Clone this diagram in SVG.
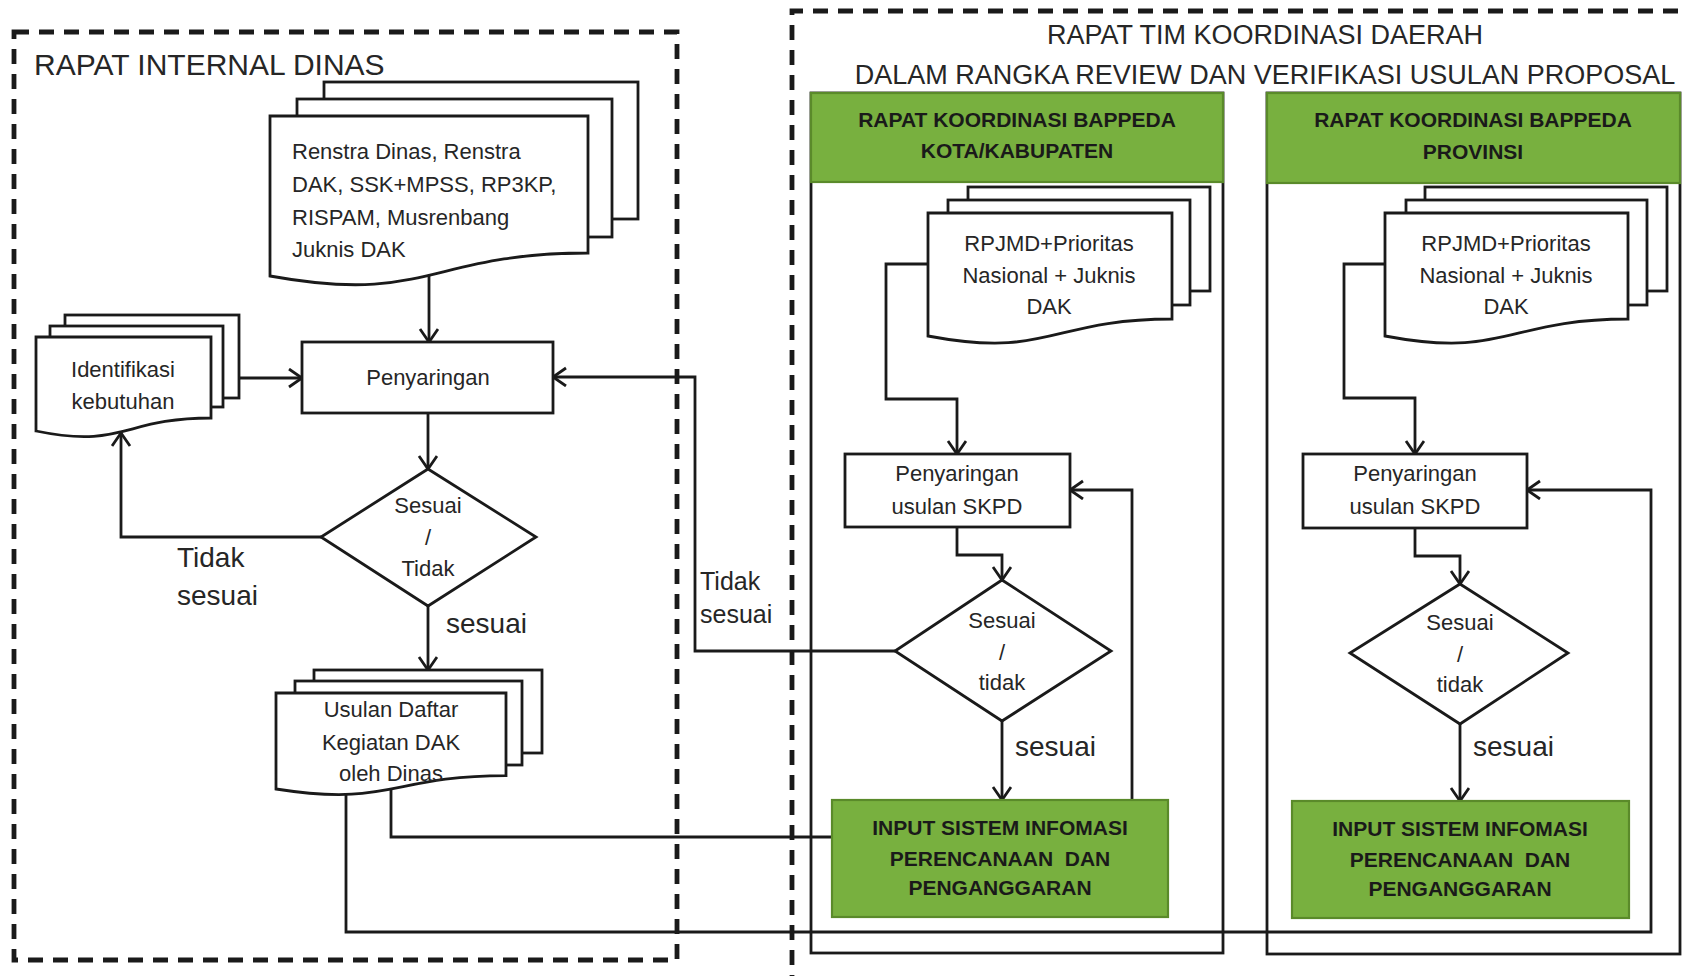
<svg xmlns="http://www.w3.org/2000/svg" width="1685" height="976" viewBox="0 0 1685 976">
<style>
  text { font-family: 'Liberation Sans', Arial, sans-serif; fill: #262626; }
  .title { font-size: 27px; }
  .title-l { font-size: 30px; }
  .body { font-size: 22px; }
  .mid { text-anchor: middle; }
  .lbl { font-size: 28px; }
  .lbl-s { font-size: 25px; }
  .bold { font-size: 21px; font-weight: bold; fill: #1a1a1a; text-anchor: middle; }
  .dash { fill: none; stroke: #1a1a1a; stroke-width: 4.8; stroke-dasharray: 15 10; }
  .box { fill: #ffffff; stroke: #1a1a1a; stroke-width: 2.8; }
  .green { fill: #78b03f; stroke: #5a8a2a; stroke-width: 2.2; }
  .cont { fill: #ffffff; stroke: #1a1a1a; stroke-width: 2.8; }
  .conn path { fill: none; stroke: #1a1a1a; stroke-width: 2.8; }
</style>
<defs>
  <marker id="arr" markerUnits="userSpaceOnUse" markerWidth="18" markerHeight="22" refX="14" refY="10" orient="auto">
    <path d="M1,1 L14,10 L1,19" fill="none" stroke="#1a1a1a" stroke-width="2.8"/>
  </marker>
</defs>
<rect width="1685" height="976" fill="#ffffff"/>

<!-- containers -->
<g id="rapat-internal-dinas">
  <rect class="dash" x="14" y="32" width="663" height="928"/>
  <text class="title-l" x="34" y="75">RAPAT INTERNAL DINAS</text>
</g>
<g id="rapat-tim-koordinasi">
  <path class="dash" d="M792,990 V11 H1700"/>
  <text class="title mid" x="1265" y="44">RAPAT TIM KOORDINASI DAERAH</text>
  <text class="title mid" x="1265" y="84">DALAM RANGKA REVIEW DAN VERIFIKASI USULAN PROPOSAL</text>
</g>
<g id="bappeda-kota">
  <rect class="cont" x="811" y="93" width="412" height="860"/>
  <rect class="green" x="811" y="93" width="412" height="89"/>
  <text class="bold" x="1017" y="127">RAPAT KOORDINASI BAPPEDA</text>
  <text class="bold" x="1017" y="158">KOTA/KABUPATEN</text>
</g>
<g id="bappeda-provinsi">
  <rect class="cont" x="1267" y="93" width="413" height="861"/>
  <rect class="green" x="1267" y="93" width="413" height="90"/>
  <text class="bold" x="1473" y="127">RAPAT KOORDINASI BAPPEDA</text>
  <text class="bold" x="1473" y="159">PROVINSI</text>
</g>

<!-- connectors -->
<g id="connectors" class="conn">
  <path d="M429,270 V342" marker-end="url(#arr)"/>
  <path d="M239,378 H302" marker-end="url(#arr)"/>
  <path d="M428,413 V469" marker-end="url(#arr)"/>
  <path d="M321,537 H121 V433" marker-end="url(#arr)"/>
  <path d="M428,606 V670" marker-end="url(#arr)"/>
  <path d="M391,780 V837 H832"/>
  <path d="M346,780 V932 H1651 V490 H1527" marker-end="url(#arr)"/>
  <path d="M940,264 H886 V399 H957 V454" marker-end="url(#arr)"/>
  <path d="M957,527 V555 H1002 V580" marker-end="url(#arr)"/>
  <path d="M1002,721 V800" marker-end="url(#arr)"/>
  <path d="M895,651 H695 V377 H553" marker-end="url(#arr)"/>
  <path d="M1132,800 V490 H1070" marker-end="url(#arr)"/>
  <path d="M1395,264 H1344 V398 H1415 V454" marker-end="url(#arr)"/>
  <path d="M1415,528 V556 H1460 V584" marker-end="url(#arr)"/>
  <path d="M1460,724 V801" marker-end="url(#arr)"/>
</g>

<!-- connector labels -->
<g id="labels">
  <text class="lbl" x="177" y="567">Tidak</text>
  <text class="lbl" x="177" y="605">sesuai</text>
  <text class="lbl" x="446" y="633">sesuai</text>
  <text class="lbl-s" x="700" y="590">Tidak</text>
  <text class="lbl-s" x="700" y="623">sesuai</text>
  <text class="lbl" x="1015" y="756">sesuai</text>
  <text class="lbl" x="1473" y="756">sesuai</text>
</g>

<!-- left nodes -->
<g id="doc-renstra">
  <rect class="box" x="324" y="82" width="314" height="137"/>
  <rect class="box" x="297" y="99" width="315" height="138"/>
  <path class="box" d="M270,116 H588 V253 C429,253 429,305 270,276 Z"/>
  <text class="body" x="292" y="159">Renstra Dinas, Renstra</text>
  <text class="body" x="292" y="192">DAK, SSK+MPSS, RP3KP,</text>
  <text class="body" x="292" y="225">RISPAM, Musrenbang</text>
  <text class="body" x="292" y="257">Juknis DAK</text>
</g>
<g id="doc-identifikasi">
  <rect class="box" x="65" y="315" width="174" height="83"/>
  <rect class="box" x="50" y="326" width="173" height="81"/>
  <path class="box" d="M36,337 H211 V418 C123.5,418 123.5,449 36,431 Z"/>
  <text class="body mid" x="123" y="377">Identifikasi</text>
  <text class="body mid" x="123" y="409">kebutuhan</text>
</g>
<g id="penyaringan">
  <rect class="box" x="302" y="342" width="251" height="71"/>
  <text class="body mid" x="428" y="385">Penyaringan</text>
</g>
<g id="decision-dinas">
  <path class="box" d="M428,469 L536,537 L428,606 L321,537 Z"/>
  <text class="body mid" x="428" y="513">Sesuai</text>
  <text class="body mid" x="428" y="545">/</text>
  <text class="body mid" x="428" y="576">Tidak</text>
</g>
<g id="doc-usulan">
  <rect class="box" x="314" y="670" width="228" height="83"/>
  <rect class="box" x="295" y="681" width="227" height="84"/>
  <path class="box" d="M276,693 H506 V775.6 C391,775.6 391,807 276,789 Z"/>
  <text class="body mid" x="391" y="717">Usulan Daftar</text>
  <text class="body mid" x="391" y="750">Kegiatan DAK</text>
  <text class="body mid" x="391" y="781">oleh Dinas</text>
</g>

<!-- Kota nodes -->
<g id="doc-kota">
  <rect class="box" x="968" y="187" width="242" height="104"/>
  <rect class="box" x="948" y="200" width="242" height="105"/>
  <path class="box" d="M928,213 H1172 V319 C1050,319 1050,359 928,336 Z"/>
  <text class="body mid" x="1049" y="251">RPJMD+Prioritas</text>
  <text class="body mid" x="1049" y="283">Nasional + Juknis</text>
  <text class="body mid" x="1049" y="314">DAK</text>
</g>
<g id="penyaringan-kota">
  <rect class="box" x="845" y="454" width="225" height="73"/>
  <text class="body mid" x="957" y="481">Penyaringan</text>
  <text class="body mid" x="957" y="514">usulan SKPD</text>
</g>
<g id="decision-kota">
  <path class="box" d="M1002,580 L1111,651 L1002,721 L895,651 Z"/>
  <text class="body mid" x="1002" y="628">Sesuai</text>
  <text class="body mid" x="1002" y="660">/</text>
  <text class="body mid" x="1002" y="690">tidak</text>
</g>
<g id="input-kota">
  <rect class="green" x="832" y="800" width="336" height="117"/>
  <text class="bold" x="1000" y="835">INPUT SISTEM INFOMASI</text>
  <text class="bold" x="1000" y="866" xml:space="preserve">PERENCANAAN  DAN</text>
  <text class="bold" x="1000" y="895">PENGANGGARAN</text>
</g>

<!-- Provinsi nodes -->
<g id="doc-provinsi">
  <rect class="box" x="1425" y="187" width="242" height="104"/>
  <rect class="box" x="1406" y="200" width="241" height="105"/>
  <path class="box" d="M1385,213 H1628 V319 C1506.5,319 1506.5,359 1385,336 Z"/>
  <text class="body mid" x="1506" y="251">RPJMD+Prioritas</text>
  <text class="body mid" x="1506" y="283">Nasional + Juknis</text>
  <text class="body mid" x="1506" y="314">DAK</text>
</g>
<g id="penyaringan-provinsi">
  <rect class="box" x="1303" y="454" width="224" height="74"/>
  <text class="body mid" x="1415" y="481">Penyaringan</text>
  <text class="body mid" x="1415" y="514">usulan SKPD</text>
</g>
<g id="decision-provinsi">
  <path class="box" d="M1460,584 L1568,653 L1460,724 L1350,653 Z"/>
  <text class="body mid" x="1460" y="630">Sesuai</text>
  <text class="body mid" x="1460" y="662">/</text>
  <text class="body mid" x="1460" y="692">tidak</text>
</g>
<g id="input-provinsi">
  <rect class="green" x="1292" y="801" width="337" height="117"/>
  <text class="bold" x="1460" y="836">INPUT SISTEM INFOMASI</text>
  <text class="bold" x="1460" y="867" xml:space="preserve">PERENCANAAN  DAN</text>
  <text class="bold" x="1460" y="896">PENGANGGARAN</text>
</g>
</svg>
